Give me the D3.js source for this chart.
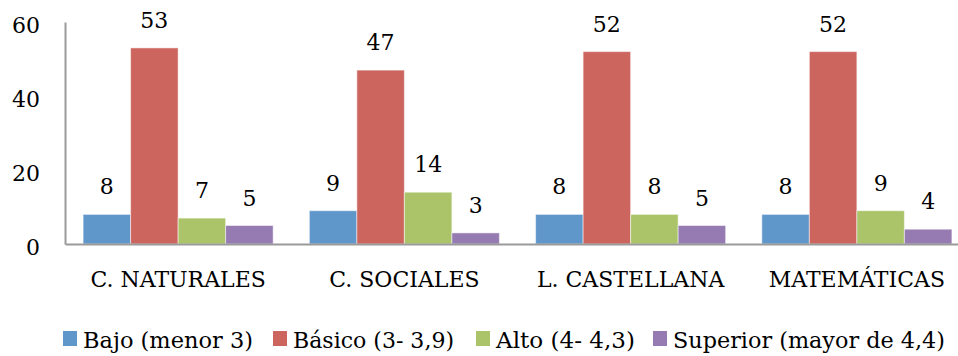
<!DOCTYPE html>
<html>
<head>
<meta charset="utf-8">
<script src="https://cdn.jsdelivr.net/npm/d3@7"></script>
<style>
  body { margin: 0; background: #fff; }
</style>
</head>
<body>
<div id="chart"></div>
<script>
// chart data
const categories = ['C. NATURALES', 'C. SOCIALES', 'L. CASTELLANA', 'MATEMÁTICAS'];
const seriesNames = ['Bajo (menor 3)', 'Básico (3- 3,9)', 'Alto (4- 4,3)', 'Superior (mayor de 4,4)'];
const bajo = [8, 9, 8, 8];
const basico = [53, 47, 52, 52];
const alto = [7, 14, 8, 9];
const superior = [5, 3, 5, 4];
const yTicks = [0, 20, 40, 60];

const seriesValues = [bajo, basico, alto, superior];
const colors = ['#6097cb', '#cd655f', '#abc46a', '#967bb2'];
const font = "'DejaVu Serif'";

const width = 958, height = 356;
const margin = { top: 22, right: -12, bottom: 112, left: 65 };

const svg = d3.select('#chart')
  .append('svg')
  .attr('width', width)
  .attr('height', height)
  .attr('font-family', font);

const x0 = d3.scaleBand()
  .domain(categories)
  .range([margin.left, width - margin.right])
  .paddingInner(0.16)
  .paddingOuter(0.08);

const x1 = d3.scaleBand()
  .domain(d3.range(seriesNames.length))
  .range([0, x0.bandwidth()]);

const y = d3.scaleLinear()
  .domain([0, 60])
  .range([height - margin.bottom, margin.top]);

// bars
const groups = svg.selectAll('g.group')
  .data(categories)
  .enter().append('g')
  .attr('class', 'group')
  .attr('transform', d => 'translate(' + x0(d) + ',0)');

groups.selectAll('rect')
  .data((d, i) => seriesValues.map((s, k) => ({ k: k, v: s[i] })))
  .enter().append('rect')
  .attr('x', d => x1(d.k))
  .attr('y', d => y(d.v))
  .attr('width', x1.bandwidth())
  .attr('height', d => y(0) - y(d.v))
  .attr('fill', d => colors[d.k])
  .attr('stroke', '#ffffff')
  .attr('stroke-opacity', 0.5)
  .attr('stroke-width', 1);

// value labels
groups.selectAll('text.val')
  .data((d, i) => seriesValues.map((s, k) => ({ k: k, v: s[i] })))
  .enter().append('text')
  .attr('class', 'val')
  .attr('x', d => x1(d.k) + x1.bandwidth() / 2)
  .attr('y', d => y(d.v) - 20)
  .attr('text-anchor', 'middle')
  .attr('font-family', font)
  .attr('font-size', 22)
  .text(d => d.v);

// y axis
const yAxis = svg.append('g')
  .attr('transform', 'translate(' + margin.left + ',0)')
  .call(d3.axisLeft(y).tickValues(yTicks).tickSize(0).tickPadding(25));
yAxis.attr('font-family', font).attr('font-size', 22);
yAxis.selectAll('text').attr('dy', '0.46em');
yAxis.select('.domain').attr('stroke', '#9a9a9a').attr('stroke-width', 2);

// x axis
const xAxis = svg.append('g')
  .attr('transform', 'translate(0,' + y(0) + ')')
  .call(d3.axisBottom(x0).tickSize(0).tickPadding(27));
xAxis.attr('font-family', font).attr('font-size', 22);
xAxis.select('.domain').attr('stroke', '#9a9a9a').attr('stroke-width', 2);

// legend
const legendX = [63, 273, 476, 653];
const legendW = [170, 161, 139, 272];
const legend = svg.selectAll('g.legend')
  .data(seriesNames)
  .enter().append('g')
  .attr('class', 'legend')
  .attr('transform', (d, i) => 'translate(' + legendX[i] + ',331)');

legend.append('rect')
  .attr('width', 14)
  .attr('height', 15)
  .attr('fill', (d, i) => colors[i]);

legend.append('text')
  .attr('x', 20)
  .attr('y', 17)
  .attr('font-size', 22)
  .attr('textLength', (d, i) => legendW[i])
  .attr('lengthAdjust', 'spacingAndGlyphs')
  .text(d => d);
</script>
</body>
</html>
